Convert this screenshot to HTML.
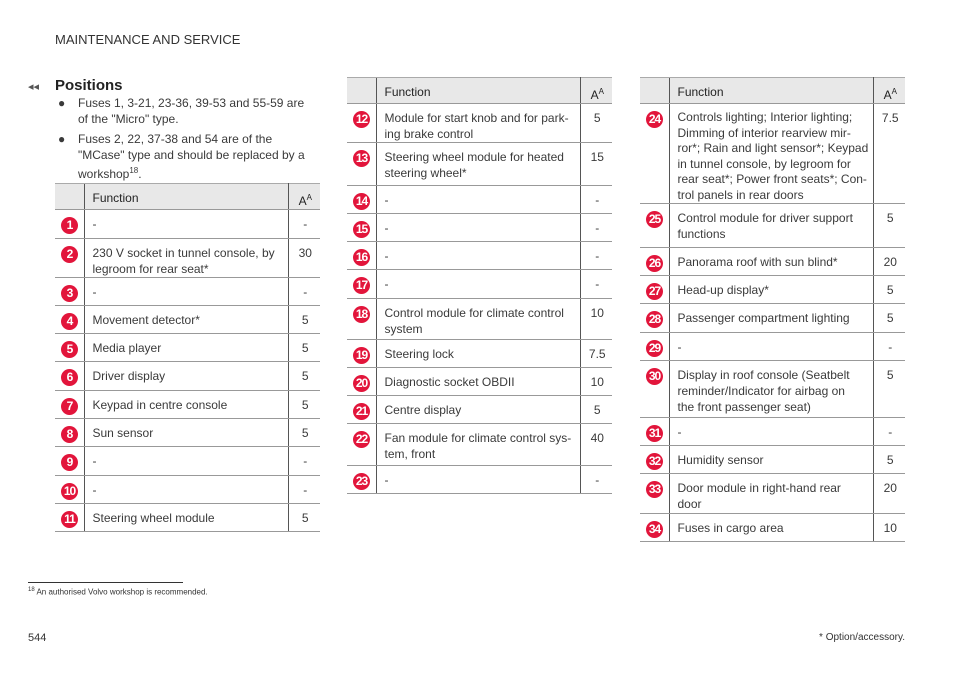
<!DOCTYPE html>
<html><head><meta charset="utf-8"><style>
body{margin:0;width:960px;height:677px;background:#fff;font-family:"Liberation Sans",sans-serif;color:#3a3a3a;position:relative;overflow:hidden}
.a{position:absolute}
table{position:absolute;border-collapse:collapse;table-layout:fixed;font-size:12px;line-height:16px}
td,th{padding:0;vertical-align:top;border-bottom:1px solid #999}
th{background:#e8e8e8;font-weight:normal;text-align:left;height:26px;border-top:1px solid #aaa;padding-top:4px;box-sizing:border-box;color:#222}
td.f,th.f{border-left:1px solid #555;border-right:1px solid #555;padding-left:8px;padding-right:0;padding-top:6px;white-space:nowrap}
td.n{padding-top:7px}
td.v,th.v{text-align:center;padding-left:2px;padding-top:6px}
.c{display:inline-block;width:17px;height:17px;border-radius:50%;background:#e2153b;color:#fff;font-weight:bold;font-size:12px;line-height:17px;text-align:center;letter-spacing:-1px;margin-left:6px}
</style></head><body>
<div class="a" style="left:55px;top:32px;font-size:13px;color:#333">MAINTENANCE AND SERVICE</div>
<div class="a" style="left:28px;top:80px;font-size:11px;color:#555">◂◂</div>
<div class="a" style="left:55px;top:77px;font-size:15px;font-weight:bold;color:#222">Positions</div>
<div class="a" style="left:58px;top:95px;font-size:12px;line-height:16px;width:270px;white-space:nowrap">
<div style="position:relative;padding-left:20px">
<span style="position:absolute;left:0">●</span>Fuses 1, 3-21, 23-36, 39-53 and 55-59 are<br>of the "Micro" type.</div>
<div style="position:relative;padding-left:20px;margin-top:4px">
<span style="position:absolute;left:0">●</span>Fuses 2, 22, 37-38 and 54 are of the<br>"MCase" type and should be replaced by a<br>workshop<sup style="font-size:8px">18</sup>.</div>
</div>

<table style="left:55px;top:183px;width:265px">
<colgroup><col style="width:29px"><col style="width:204px"><col style="width:32px"></colgroup>
<tr><th></th><th class="f">Function</th><th class="v">A<sup style="font-size:8px">A</sup></th></tr>
<tr style="height:29px"><td class="n"><span class="c">1</span></td><td class="f">-</td><td class="v">-</td></tr>
<tr style="height:39px"><td class="n"><span class="c">2</span></td><td class="f">230 V socket in tunnel console, by<br>legroom for rear seat*</td><td class="v">30</td></tr>
<tr style="height:28px"><td class="n"><span class="c">3</span></td><td class="f">-</td><td class="v">-</td></tr>
<tr style="height:28px"><td class="n"><span class="c">4</span></td><td class="f">Movement detector*</td><td class="v">5</td></tr>
<tr style="height:28px"><td class="n"><span class="c">5</span></td><td class="f">Media player</td><td class="v">5</td></tr>
<tr style="height:29px"><td class="n"><span class="c">6</span></td><td class="f">Driver display</td><td class="v">5</td></tr>
<tr style="height:28px"><td class="n"><span class="c">7</span></td><td class="f">Keypad in centre console</td><td class="v">5</td></tr>
<tr style="height:28px"><td class="n"><span class="c">8</span></td><td class="f">Sun sensor</td><td class="v">5</td></tr>
<tr style="height:29px"><td class="n"><span class="c">9</span></td><td class="f">-</td><td class="v">-</td></tr>
<tr style="height:28px"><td class="n"><span class="c">10</span></td><td class="f">-</td><td class="v">-</td></tr>
<tr style="height:28px"><td class="n"><span class="c">11</span></td><td class="f">Steering wheel module</td><td class="v">5</td></tr>
</table>

<table style="left:347px;top:77px;width:265px">
<colgroup><col style="width:29px"><col style="width:204px"><col style="width:32px"></colgroup>
<tr><th></th><th class="f">Function</th><th class="v">A<sup style="font-size:8px">A</sup></th></tr>
<tr style="height:39px"><td class="n"><span class="c">12</span></td><td class="f">Module for start knob and for park-<br>ing brake control</td><td class="v">5</td></tr>
<tr style="height:43px"><td class="n"><span class="c">13</span></td><td class="f">Steering wheel module for heated<br>steering wheel*</td><td class="v">15</td></tr>
<tr style="height:28px"><td class="n"><span class="c">14</span></td><td class="f">-</td><td class="v">-</td></tr>
<tr style="height:28px"><td class="n"><span class="c">15</span></td><td class="f">-</td><td class="v">-</td></tr>
<tr style="height:28px"><td class="n"><span class="c">16</span></td><td class="f">-</td><td class="v">-</td></tr>
<tr style="height:29px"><td class="n"><span class="c">17</span></td><td class="f">-</td><td class="v">-</td></tr>
<tr style="height:41px"><td class="n"><span class="c">18</span></td><td class="f">Control module for climate control<br>system</td><td class="v">10</td></tr>
<tr style="height:28px"><td class="n"><span class="c">19</span></td><td class="f">Steering lock</td><td class="v">7.5</td></tr>
<tr style="height:28px"><td class="n"><span class="c">20</span></td><td class="f">Diagnostic socket OBDII</td><td class="v">10</td></tr>
<tr style="height:28px"><td class="n"><span class="c">21</span></td><td class="f">Centre display</td><td class="v">5</td></tr>
<tr style="height:42px"><td class="n"><span class="c">22</span></td><td class="f">Fan module for climate control sys-<br>tem, front</td><td class="v">40</td></tr>
<tr style="height:28px"><td class="n"><span class="c">23</span></td><td class="f">-</td><td class="v">-</td></tr>
</table>

<table style="left:640px;top:77px;width:265px">
<colgroup><col style="width:29px"><col style="width:204px"><col style="width:32px"></colgroup>
<tr><th></th><th class="f">Function</th><th class="v">A<sup style="font-size:8px">A</sup></th></tr>
<tr style="height:100px"><td class="n"><span class="c">24</span></td><td class="f" style="line-height:15.5px">Controls lighting; Interior lighting;<br>Dimming of interior rearview mir-<br>ror*; Rain and light sensor*; Keypad<br>in tunnel console, by legroom for<br>rear seat*; Power front seats*; Con-<br>trol panels in rear doors</td><td class="v">7.5</td></tr>
<tr style="height:44px"><td class="n"><span class="c">25</span></td><td class="f">Control module for driver support<br>functions</td><td class="v">5</td></tr>
<tr style="height:28px"><td class="n"><span class="c">26</span></td><td class="f">Panorama roof with sun blind*</td><td class="v">20</td></tr>
<tr style="height:28px"><td class="n"><span class="c">27</span></td><td class="f">Head-up display*</td><td class="v">5</td></tr>
<tr style="height:29px"><td class="n"><span class="c">28</span></td><td class="f">Passenger compartment lighting</td><td class="v">5</td></tr>
<tr style="height:28px"><td class="n"><span class="c">29</span></td><td class="f">-</td><td class="v">-</td></tr>
<tr style="height:57px"><td class="n"><span class="c">30</span></td><td class="f">Display in roof console (Seatbelt<br>reminder/Indicator for airbag on<br>the front passenger seat)</td><td class="v">5</td></tr>
<tr style="height:28px"><td class="n"><span class="c">31</span></td><td class="f">-</td><td class="v">-</td></tr>
<tr style="height:28px"><td class="n"><span class="c">32</span></td><td class="f">Humidity sensor</td><td class="v">5</td></tr>
<tr style="height:40px"><td class="n"><span class="c">33</span></td><td class="f">Door module in right-hand rear<br>door</td><td class="v">20</td></tr>
<tr style="height:28px"><td class="n"><span class="c">34</span></td><td class="f">Fuses in cargo area</td><td class="v">10</td></tr>
</table>

<div class="a" style="left:28px;top:582px;width:155px;border-top:1px solid #333"></div>
<div class="a" style="left:28px;top:587px;font-size:8px;color:#333"><sup style="font-size:6px">18</sup> An authorised Volvo workshop is recommended.</div>
<div class="a" style="left:28px;top:632px;font-size:11px;color:#333">544</div>
<div class="a" style="right:55px;top:632px;font-size:10px;color:#333">* Option/accessory.</div>
</body></html>
